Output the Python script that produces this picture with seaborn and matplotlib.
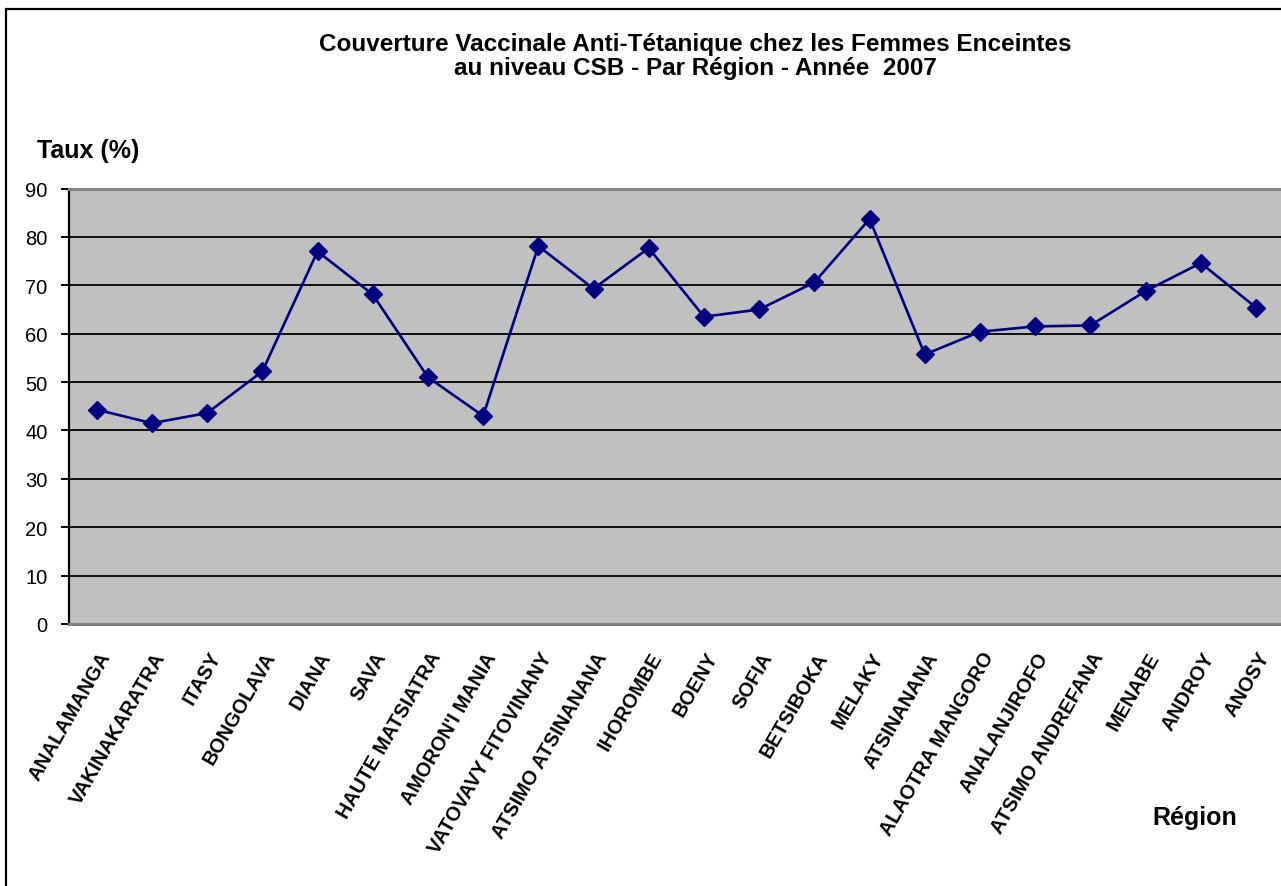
import matplotlib
matplotlib.use("Agg")
import matplotlib.pyplot as plt
import matplotlib.patches as mpatches
from matplotlib.transforms import ScaledTranslation
import seaborn as sns
import pandas as pd

# Regions in display order
regions = [
    "ANALAMANGA", "VAKINAKARATRA", "ITASY", "BONGOLAVA", "DIANA", "SAVA",
    "HAUTE MATSIATRA", "AMORON'I MANIA", "VATOVAVY FITOVINANY",
    "ATSIMO ATSINANANA", "IHOROMBE", "BOENY", "SOFIA", "BETSIBOKA",
    "MELAKY", "ATSINANANA", "ALAOTRA MANGORO", "ANALANJIROFO",
    "ATSIMO ANDREFANA", "MENABE", "ANDROY", "ANOSY",
]

# Anti-tetanus vaccination coverage of pregnant women (%), 2007
taux = [
    44.3, 41.5, 43.6, 52.2, 77.0, 68.1,
    51.0, 43.0, 78.1,
    69.3, 77.7, 63.5, 65.0, 70.6,
    83.7, 55.7, 60.4, 61.5,
    61.7, 68.8, 74.6, 65.4,
]

y_ticks = list(range(0, 100, 10))

title_lines = [
    "Couverture Vaccinale Anti-Tétanique chez les Femmes Enceintes",
    "au niveau CSB - Par Région - Année  2007",
]
y_label = "Taux (%)"
x_label = "Région"

df = pd.DataFrame({"Région": regions, "Taux": taux})

sns.set_style("white")
plt.rcParams["font.family"] = ["Liberation Sans", "DejaVu Sans"]
plt.rcParams["text.color"] = "black"
plt.rcParams["xtick.color"] = "black"
plt.rcParams["ytick.color"] = "black"
plt.rcParams["xtick.labelcolor"] = "black"
plt.rcParams["ytick.labelcolor"] = "black"

W, H = 1281, 887
fig = plt.figure(figsize=(W / 100, H / 100), dpi=100)
fig.patch.set_facecolor("white")

# Outer chart frame
fig.add_artist(mpatches.Rectangle(
    (6 / W, -0.05), 1.2, 1 - 10 / H + 0.05,
    transform=fig.transFigure, fill=False, edgecolor="black", linewidth=1.6,
))

# Plot area
left_px, right_px, top_px, bottom_px = 69.1, 1283.6, 189.5, 625.0
ax = fig.add_axes([left_px / W, 1 - bottom_px / H,
                   (right_px - left_px) / W, (bottom_px - top_px) / H])
ax.set_facecolor("#C0C0C0")

sns.lineplot(data=df, x="Région", y="Taux", sort=False, ax=ax,
             color="#000080", linewidth=1.9, marker="D", markersize=9,
             markeredgecolor="#000080", markeredgewidth=1.0)

ax.set_xlim(-0.5, len(regions) - 0.5)
ax.set_ylim(0, 90)
ax.set_yticks(y_ticks)
ax.set_yticklabels([str(v) for v in y_ticks], fontsize=14.5)
ax.yaxis.grid(True, color="black", linewidth=1.3)
ax.set_axisbelow(True)

for side in ("top", "bottom", "right"):
    ax.spines[side].set_color("#808080")
    ax.spines[side].set_linewidth(2.2)
ax.spines["left"].set_color("black")
ax.spines["left"].set_linewidth(1.6)

ax.tick_params(axis="y", direction="out", length=5.5, width=1.4,
               color="black", pad=10, left=True)
ax.tick_params(axis="x", length=0, pad=21)

ax.set_xticks(range(len(regions)))
ax.set_xticklabels(regions, rotation=60, ha="right", va="center",
                   rotation_mode="anchor", fontsize=14.3, fontweight="bold")
shift = ScaledTranslation(0.09, 0, fig.dpi_scale_trans)
for lab in ax.get_xticklabels():
    lab.set_transform(lab.get_transform() + shift)

ax.set_xlabel("")
ax.set_ylabel("")

# Titles and axis captions
fig.text(695 / W, 1 - 44 / H, title_lines[0], ha="center", va="center",
         fontsize=17.5, fontweight="bold")
fig.text(695 / W, 1 - 69 / H, title_lines[1], ha="center", va="center",
         fontsize=17.5, fontweight="bold")
fig.text(37 / W, 1 - 151 / H, y_label, ha="left", va="center",
         fontsize=18, fontweight="bold")
fig.text(1195 / W, 1 - 818 / H, x_label, ha="center", va="center",
         fontsize=18, fontweight="bold")

fig.savefig("out.png", dpi=100, facecolor="white")
